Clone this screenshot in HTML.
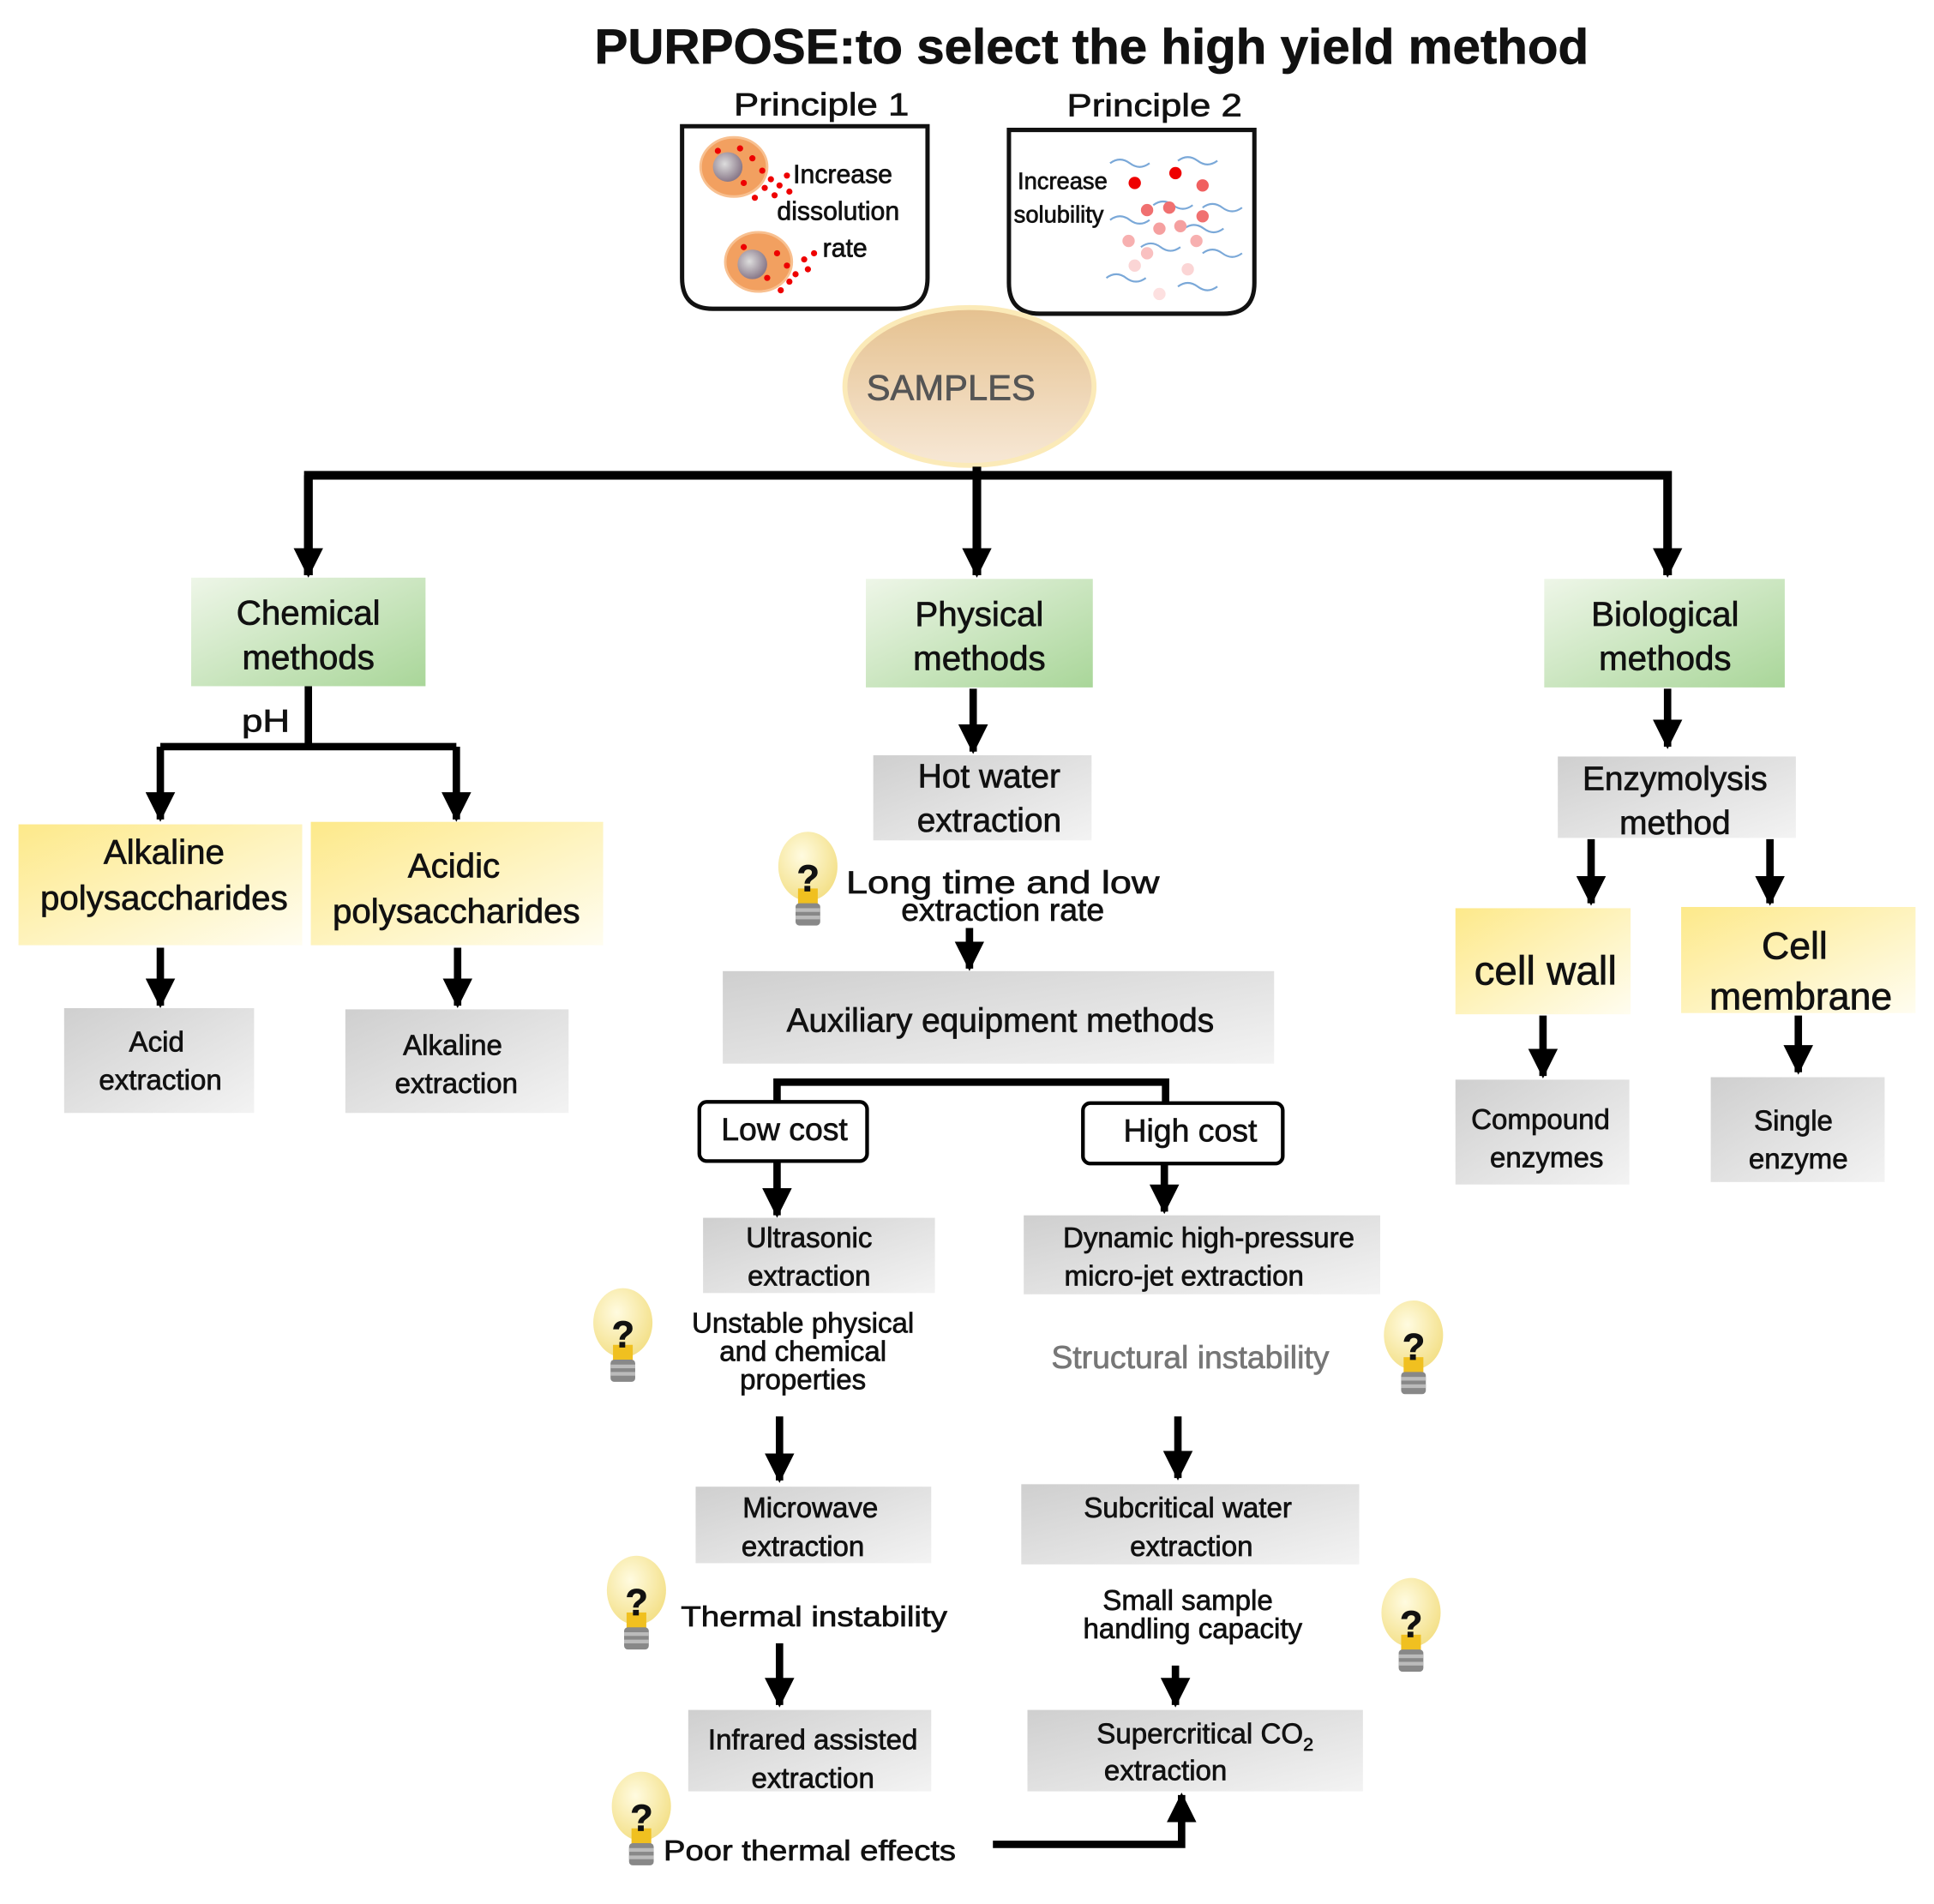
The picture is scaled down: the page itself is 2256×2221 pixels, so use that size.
<!DOCTYPE html>
<html><head><meta charset="utf-8"><style>
html,body{margin:0;padding:0;background:#fff}
svg{display:block}
text{font-family:"Liberation Sans","DejaVu Sans",sans-serif;fill:#111;stroke:#111;stroke-width:0.5}
</style></head><body>
<svg width="2256" height="2221" viewBox="0 0 1568 1543" xmlns="http://www.w3.org/2000/svg">
<defs>
<marker id="ah" markerUnits="userSpaceOnUse" markerWidth="24" markerHeight="24" refX="22" refY="12" orient="auto"><path d="M0,0 L24,12 L0,24 z" fill="#000"/></marker>
<linearGradient id="gg" x1="0" y1="0" x2="1" y2="1"><stop offset="0" stop-color="#eef6e8"/><stop offset="1" stop-color="#a9d699"/></linearGradient>
<linearGradient id="gy" x1="0" y1="0" x2="1" y2="1"><stop offset="0" stop-color="#fde98a"/><stop offset="1" stop-color="#fffdf0"/></linearGradient>
<linearGradient id="gr" x1="0" y1="0" x2="1" y2="1"><stop offset="0" stop-color="#cfcfcf"/><stop offset="1" stop-color="#f3f3f3"/></linearGradient>
<linearGradient id="ge" x1="0" y1="0" x2="0" y2="1"><stop offset="0" stop-color="#e5c18f"/><stop offset="1" stop-color="#f7e8d6"/></linearGradient>
<radialGradient id="gb" cx="0.4" cy="0.35" r="0.7"><stop offset="0" stop-color="#fffbe0"/><stop offset="1" stop-color="#f3df85"/></radialGradient>
<radialGradient id="gc" cx="0.4" cy="0.4" r="0.6"><stop offset="0" stop-color="#ddd"/><stop offset="1" stop-color="#8a7a8a"/></radialGradient>
<g id="bulb">
<ellipse cx="0" cy="-8" rx="24" ry="28" fill="url(#gb)"/>
<rect x="-8" y="10" width="16" height="14" fill="#f0c020"/>
<rect x="-10" y="22" width="20" height="18" rx="3" fill="#888"/>
<rect x="-10" y="26" width="20" height="3" fill="#bbb"/><rect x="-10" y="32" width="20" height="3" fill="#bbb"/>
<text x="-9" y="12" font-size="30" font-weight="bold">?</text>
</g>
</defs>

<text x="885" y="51" font-size="40" font-weight="bold" text-anchor="middle" textLength="806" lengthAdjust="spacingAndGlyphs">PURPOSE:to select the high yield method</text>
<text x="666" y="93" font-size="26" text-anchor="middle" textLength="142" lengthAdjust="spacingAndGlyphs">Principle 1</text>
<text x="936" y="94" font-size="26" text-anchor="middle" textLength="142" lengthAdjust="spacingAndGlyphs">Principle 2</text>

<path d="M553,102 H752 V225 Q752,250 727,250 H578 Q553,250 553,225 Z" fill="#fff" stroke="#111" stroke-width="3.5"/>
<path d="M818,105 H1017 V229 Q1017,254 992,254 H843 Q818,254 818,229 Z" fill="#fff" stroke="#111" stroke-width="3.5"/>
<ellipse cx="595" cy="135" rx="27" ry="24" fill="#f2a060" stroke="#f8c090" stroke-width="2"/><circle cx="590" cy="135" r="12" fill="url(#gc)"/>
<ellipse cx="615" cy="212" rx="27" ry="24" fill="#f2a060" stroke="#f8c090" stroke-width="2"/><circle cx="610" cy="214" r="12" fill="url(#gc)"/>
<g fill="#e00">
<circle cx="610" cy="128" r="2.5"/><circle cx="618" cy="138" r="2.5"/><circle cx="625" cy="145" r="2.5"/><circle cx="632" cy="150" r="2.5"/><circle cx="620" cy="152" r="2.5"/><circle cx="638" cy="142" r="2.5"/><circle cx="628" cy="158" r="2.5"/><circle cx="640" cy="155" r="2.5"/><circle cx="612" cy="160" r="2.5"/><circle cx="603" cy="148" r="2.5"/><circle cx="582" cy="122" r="2.5"/><circle cx="600" cy="120" r="2.5"/>
<circle cx="630" cy="205" r="2.5"/><circle cx="638" cy="215" r="2.5"/><circle cx="645" cy="222" r="2.5"/><circle cx="652" cy="210" r="2.5"/><circle cx="640" cy="228" r="2.5"/><circle cx="655" cy="218" r="2.5"/><circle cx="622" cy="225" r="2.5"/><circle cx="660" cy="205" r="2.5"/><circle cx="633" cy="235" r="2.5"/><circle cx="603" cy="200" r="2.5"/>
</g>
<text x="643" y="148" font-size="21">Increase</text>
<text x="630" y="178" font-size="21">dissolution</text>
<text x="667" y="208" font-size="21">rate</text>
<text x="825" y="153" font-size="19">Increase</text>
<text x="822" y="180" font-size="19">solubility</text>
<g fill="none" stroke="#7aa8d8" stroke-width="1.5">
<path d="M900,132 q8,-6 16,0 t16,0"/><path d="M955,130 q8,-6 16,0 t16,0"/><path d="M935,166 q8,-6 16,0 t16,0"/><path d="M975,168 q8,-6 16,0 t16,0"/><path d="M900,178 q8,-6 16,0 t16,0"/><path d="M960,185 q8,-6 16,0 t16,0"/><path d="M925,200 q8,-6 16,0 t16,0"/><path d="M975,205 q8,-6 16,0 t16,0"/><path d="M897,225 q8,-6 16,0 t16,0"/><path d="M955,232 q8,-6 16,0 t16,0"/>
</g>
<g><circle cx="920" cy="148" r="5" fill="#e00"/><circle cx="953" cy="140" r="5" fill="#e00"/><circle cx="975" cy="150" r="5" fill="#f06060"/><circle cx="930" cy="170" r="5" fill="#f07070"/><circle cx="948" cy="168" r="5" fill="#f07070"/><circle cx="975" cy="175" r="5" fill="#f07070"/><circle cx="940" cy="185" r="5" fill="#f5a0a0"/><circle cx="957" cy="183" r="5" fill="#f5a0a0"/><circle cx="915" cy="195" r="5" fill="#f7b0b0"/><circle cx="970" cy="195" r="5" fill="#f7b0b0"/><circle cx="930" cy="205" r="5" fill="#f9c0c0"/><circle cx="920" cy="215" r="5" fill="#fbd5d5"/><circle cx="963" cy="218" r="5" fill="#fbd5d5"/><circle cx="940" cy="238" r="5" fill="#fde0e0"/></g>

<ellipse cx="786" cy="313" rx="101" ry="64" fill="url(#ge)" stroke="#fbeab8" stroke-width="4"/>
<text x="771" y="324" font-size="29" text-anchor="middle" style="fill:#555;stroke:#555">SAMPLES</text>

<g stroke="#000" stroke-width="7" fill="none">
<path d="M250,466 V385 H1352 V466" marker-end="url(#ah)"/>
<path d="M250,385 V466" marker-end="url(#ah)"/>
<path d="M792,378 V466" marker-end="url(#ah)"/>
</g>

<rect x="155" y="468" width="190" height="88" fill="url(#gg)"/>
<rect x="702" y="469" width="184" height="88" fill="url(#gg)"/>
<rect x="1252" y="469" width="195" height="88" fill="url(#gg)"/>
<g font-size="28" text-anchor="middle">
<text x="250" y="506">Chemical</text><text x="250" y="542">methods</text>
<text x="794" y="507">Physical</text><text x="794" y="543">methods</text>
<text x="1350" y="507">Biological</text><text x="1350" y="543">methods</text>
</g>

<g stroke="#000" stroke-width="6" fill="none">
<path d="M250,556 V605"/>
<path d="M130,605 H370"/>
<path d="M130,605 V664" marker-end="url(#ah)"/>
<path d="M370,605 V664" marker-end="url(#ah)"/>
<path d="M130,768 V815" marker-end="url(#ah)"/>
<path d="M371,768 V815" marker-end="url(#ah)"/>
<path d="M789,558 V609" marker-end="url(#ah)"/>
<path d="M786,752 V785" marker-end="url(#ah)"/>
<path d="M630,893 V877 H945 V894"/>
<path d="M630,941 V985" marker-end="url(#ah)"/>
<path d="M944,943 V982" marker-end="url(#ah)"/>
<path d="M632,1148 V1200" marker-end="url(#ah)"/>
<path d="M955,1148 V1198" marker-end="url(#ah)"/>
<path d="M632,1332 V1382" marker-end="url(#ah)"/>
<path d="M953,1350 V1382" marker-end="url(#ah)"/>
<path d="M805,1495 H958 V1455" marker-end="url(#ah)"/>
<path d="M1352,558 V605" marker-end="url(#ah)"/>
<path d="M1290,680 V732" marker-end="url(#ah)"/>
<path d="M1435,680 V732" marker-end="url(#ah)"/>
<path d="M1251,823 V872" marker-end="url(#ah)"/>
<path d="M1458,823 V869" marker-end="url(#ah)"/>
</g>
<text x="196" y="593" font-size="26" textLength="39" lengthAdjust="spacingAndGlyphs">pH</text>

<rect x="15" y="668" width="230" height="98" fill="url(#gy)"/>
<rect x="252" y="666" width="237" height="100" fill="url(#gy)"/>
<g font-size="28" text-anchor="middle">
<text x="133" y="700">Alkaline</text><text x="133" y="737">polysaccharides</text>
<text x="368" y="711">Acidic</text><text x="370" y="748">polysaccharides</text>
</g>

<g fill="url(#gr)">
<rect x="52" y="817" width="154" height="85"/><rect x="280" y="818" width="181" height="84"/>
<rect x="708" y="612" width="177" height="69"/>
<rect x="586" y="787" width="447" height="75"/>
<rect x="570" y="987" width="188" height="61"/><rect x="830" y="985" width="289" height="64"/>
<rect x="564" y="1205" width="191" height="62"/><rect x="828" y="1203" width="274" height="65"/>
<rect x="558" y="1386" width="197" height="66"/><rect x="833" y="1386" width="272" height="66"/>
<rect x="1263" y="613" width="193" height="66"/>
<rect x="1180" y="875" width="141" height="85"/><rect x="1387" y="873" width="141" height="85"/>
</g>
<g font-size="23" text-anchor="middle">
<text x="127" y="852">Acid</text><text x="130" y="883">extraction</text>
<text x="367" y="855">Alkaline</text><text x="370" y="886">extraction</text>
<text x="656" y="1011">Ultrasonic</text><text x="656" y="1042">extraction</text>
<text x="980" y="1011">Dynamic high-pressure</text><text x="960" y="1042">micro-jet extraction</text>
<text x="657" y="1230">Microwave</text><text x="651" y="1261">extraction</text>
<text x="963" y="1230">Subcritical water</text><text x="966" y="1261">extraction</text>
<text x="659" y="1418">Infrared assisted</text><text x="659" y="1449">extraction</text>
<text x="977" y="1413">Supercritical CO<tspan font-size="15" dy="6">2</tspan></text><text x="945" y="1443">extraction</text>
<text x="1249" y="915">Compound</text><text x="1254" y="946">enzymes</text>
<text x="1454" y="916">Single</text><text x="1458" y="947">enzyme</text>
<text x="651" y="1080">Unstable physical</text><text x="651" y="1103">and chemical</text><text x="651" y="1126">properties</text>
<text x="963" y="1305">Small sample</text><text x="967" y="1328">handling capacity</text>
</g>
<g font-size="27" text-anchor="middle">
<text x="802" y="638">Hot water</text><text x="802" y="674">extraction</text>
<text x="811" y="836">Auxiliary equipment methods</text>
<text x="1358" y="640">Enzymolysis</text><text x="1358" y="676">method</text>
</g>
<text x="813" y="724" font-size="26" text-anchor="middle" textLength="254" lengthAdjust="spacingAndGlyphs">Long time and low</text>
<text x="813" y="746" font-size="26" text-anchor="middle">extraction rate</text>

<rect x="567" y="893" width="136" height="48" rx="6" fill="#fff" stroke="#000" stroke-width="3"/>
<rect x="878" y="894" width="162" height="49" rx="6" fill="#fff" stroke="#000" stroke-width="3"/>
<text x="636" y="924" font-size="26" text-anchor="middle">Low cost</text>
<text x="965" y="925" font-size="26" text-anchor="middle">High cost</text>

<text x="965" y="1109" font-size="26" text-anchor="middle" style="fill:#777;stroke:#777">Structural instability</text>
<text x="552" y="1318" font-size="23" textLength="216" lengthAdjust="spacingAndGlyphs">Thermal instability</text>
<text x="538" y="1508" font-size="23" textLength="237" lengthAdjust="spacingAndGlyphs">Poor thermal effects</text>

<rect x="1180" y="736" width="142" height="86" fill="url(#gy)"/>
<rect x="1363" y="735" width="190" height="86" fill="url(#gy)"/>
<text x="1253" y="798" font-size="33" text-anchor="middle">cell wall</text>
<text x="1455" y="777" font-size="31" text-anchor="middle">Cell</text>
<text x="1460" y="818" font-size="31" text-anchor="middle">membrane</text>

<use href="#bulb" x="655" y="710"/>
<use href="#bulb" x="505" y="1080"/>
<use href="#bulb" x="1146" y="1090"/>
<use href="#bulb" x="516" y="1297"/>
<use href="#bulb" x="1144" y="1315"/>
<use href="#bulb" x="520" y="1472"/>
</svg>
</body></html>
